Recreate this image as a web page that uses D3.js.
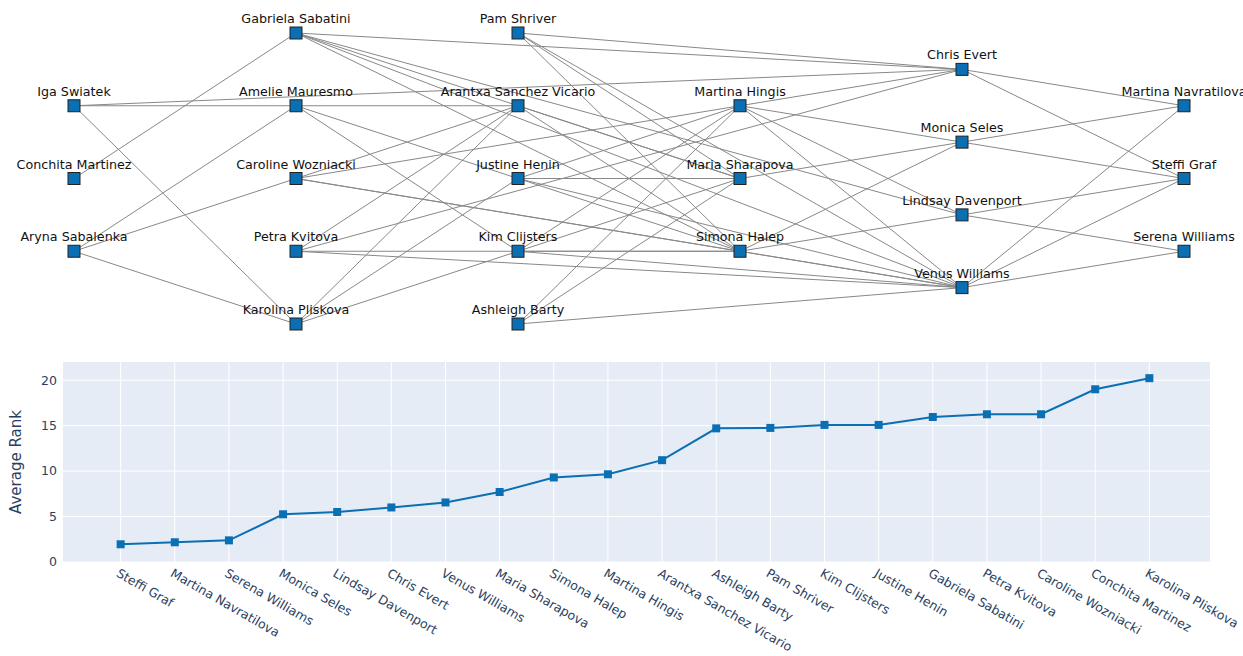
<!DOCTYPE html>
<html><head><meta charset="utf-8">
<script src="https://cdn.jsdelivr.net/npm/d3@7"></script>
<style>body{margin:0;background:#fff}svg{display:block}</style>
</head><body>
<svg id="chart" width="1243" height="656"></svg>
<script>
// ---------- network data ----------
const nodeNames = ["Iga Swiatek","Conchita Martinez","Aryna Sabalenka",
  "Gabriela Sabatini","Amelie Mauresmo","Caroline Wozniacki","Petra Kvitova","Karolina Pliskova",
  "Pam Shriver","Arantxa Sanchez Vicario","Justine Henin","Kim Clijsters","Ashleigh Barty",
  "Martina Hingis","Maria Sharapova","Simona Halep",
  "Chris Evert","Monica Seles","Lindsay Davenport","Venus Williams",
  "Martina Navratilova","Steffi Graf","Serena Williams"];
const nodeLayer = [0,0,0, 1,1,1,1,1, 2,2,2,2,2, 3,3,3, 4,4,4,4, 5,5,5];
const nodeSlot  = [1,2,3, 0,1,2,3,4, 0,1,2,3,4, 1,2,3, 0.5,1.5,2.5,3.5, 1,2,3];
const edgeSource = [
  "Iga Swiatek","Iga Swiatek","Iga Swiatek",
  "Conchita Martinez",
  "Aryna Sabalenka","Aryna Sabalenka","Aryna Sabalenka",
  "Gabriela Sabatini","Gabriela Sabatini","Gabriela Sabatini","Gabriela Sabatini","Gabriela Sabatini",
  "Amelie Mauresmo","Amelie Mauresmo","Amelie Mauresmo",
  "Caroline Wozniacki","Caroline Wozniacki","Caroline Wozniacki","Caroline Wozniacki",
  "Petra Kvitova","Petra Kvitova","Petra Kvitova","Petra Kvitova",
  "Karolina Pliskova","Karolina Pliskova","Karolina Pliskova",
  "Pam Shriver","Pam Shriver","Pam Shriver","Pam Shriver",
  "Arantxa Sanchez Vicario","Arantxa Sanchez Vicario",
  "Justine Henin","Justine Henin","Justine Henin","Justine Henin",
  "Kim Clijsters","Kim Clijsters","Kim Clijsters","Kim Clijsters",
  "Ashleigh Barty","Ashleigh Barty","Ashleigh Barty",
  "Martina Hingis","Martina Hingis","Martina Hingis","Martina Hingis",
  "Maria Sharapova",
  "Simona Halep","Simona Halep","Simona Halep",
  "Chris Evert","Chris Evert",
  "Monica Seles","Monica Seles",
  "Lindsay Davenport","Lindsay Davenport",
  "Venus Williams","Venus Williams","Venus Williams"];
const edgeTarget = [
  "Amelie Mauresmo","Chris Evert","Karolina Pliskova",
  "Gabriela Sabatini",
  "Amelie Mauresmo","Caroline Wozniacki","Karolina Pliskova",
  "Chris Evert","Maria Sharapova","Lindsay Davenport","Venus Williams","Simona Halep",
  "Arantxa Sanchez Vicario","Justine Henin","Kim Clijsters",
  "Arantxa Sanchez Vicario","Martina Hingis","Simona Halep","Venus Williams",
  "Arantxa Sanchez Vicario","Chris Evert","Simona Halep","Venus Williams",
  "Arantxa Sanchez Vicario","Justine Henin","Kim Clijsters",
  "Chris Evert","Maria Sharapova","Venus Williams","Simona Halep",
  "Maria Sharapova","Simona Halep",
  "Maria Sharapova","Martina Hingis","Simona Halep","Venus Williams",
  "Martina Hingis","Maria Sharapova","Simona Halep","Venus Williams",
  "Martina Hingis","Maria Sharapova","Venus Williams",
  "Chris Evert","Monica Seles","Lindsay Davenport","Venus Williams",
  "Monica Seles",
  "Monica Seles","Lindsay Davenport","Venus Williams",
  "Martina Navratilova","Steffi Graf",
  "Martina Navratilova","Steffi Graf",
  "Steffi Graf","Serena Williams",
  "Martina Navratilova","Steffi Graf","Serena Williams"];

// ---------- average rank data ----------
const players = ["Steffi Graf","Martina Navratilova","Serena Williams","Monica Seles","Lindsay Davenport",
  "Chris Evert","Venus Williams","Maria Sharapova","Simona Halep","Martina Hingis","Arantxa Sanchez Vicario",
  "Ashleigh Barty","Pam Shriver","Kim Clijsters","Justine Henin","Gabriela Sabatini","Petra Kvitova",
  "Caroline Wozniacki","Conchita Martinez","Karolina Pliskova"];
const avgRank = [1.95,2.17,2.38,5.25,5.5,6.0,6.55,7.7,9.3,9.65,11.2,14.7,14.75,15.08,15.08,15.95,16.25,16.25,19.0,20.22];
const yTicks = [0,5,10,15,20];

const blue = "#0a6fb3";
const font = "DejaVu Sans, Verdana, sans-serif";
const svg = d3.select("#chart");

// ---------- network ----------
const xNet = d3.scaleLinear().domain([0,5]).range([74,1184]);
const yNet = d3.scaleLinear().domain([0,4]).range([33,324]);
const idx = new Map(nodeNames.map((n,i)=>[n,i]));
const nodes = nodeNames.map((n,i)=>({name:n, x:xNet(nodeLayer[i]), y:yNet(nodeSlot[i])}));
const edges = edgeSource.map((s,i)=>({s:nodes[idx.get(s)], t:nodes[idx.get(edgeTarget[i])]}));

const net = svg.append("g");
net.selectAll("line.edge").data(edges).join("line")
  .attr("x1",d=>d.s.x).attr("y1",d=>d.s.y).attr("x2",d=>d.t.x).attr("y2",d=>d.t.y)
  .attr("stroke","#888").attr("stroke-width",1);
net.selectAll("rect.node").data(nodes).join("rect")
  .attr("x",d=>d.x-6).attr("y",d=>d.y-6).attr("width",12).attr("height",12)
  .attr("fill",blue).attr("stroke","#222").attr("stroke-width",1);
net.selectAll("text.lbl").data(nodes).join("text")
  .attr("x",d=>d.x).attr("y",d=>d.y-10)
  .attr("text-anchor","middle")
  .attr("font-family",font).attr("font-size",12.7)
  .attr("fill","#111").text(d=>d.name);

// ---------- line chart ----------
const plot = {l:63, r:1210, t:362, b:562};
const xCat = d3.scalePoint().domain(players).range([60,1210]).padding(1.12);
const yLin = d3.scaleLinear().domain([0,22]).range([plot.b, plot.t]);
const g = svg.append("g");
g.append("rect").attr("x",plot.l).attr("y",plot.t).attr("width",plot.r-plot.l).attr("height",plot.b-plot.t).attr("fill","#E5ECF6");
g.selectAll("line.vg").data(players).join("line")
  .attr("x1",d=>xCat(d)).attr("x2",d=>xCat(d)).attr("y1",plot.t).attr("y2",plot.b)
  .attr("stroke","#fff").attr("stroke-width",1);
g.selectAll("line.hg").data(yTicks).join("line")
  .attr("x1",plot.l).attr("x2",plot.r).attr("y1",d=>yLin(d)).attr("y2",d=>yLin(d))
  .attr("stroke","#fff").attr("stroke-width",1);
g.selectAll("text.yt").data(yTicks).join("text")
  .attr("x",plot.l-6).attr("y",d=>yLin(d)).attr("dy","0.35em").attr("text-anchor","end")
  .attr("font-family",font).attr("font-size",12.5).attr("fill","#2a3f5f").text(d=>d);
g.selectAll("text.xt").data(players).join("text")
  .attr("transform",d=>`translate(${xCat(d)-3},${plot.b+10}) rotate(30)`)
  .attr("text-anchor","start").attr("dy","0.35em")
  .attr("font-family",font).attr("font-size",12.5).attr("fill","#2a3f5f").text(d=>d);
g.append("text").attr("transform",`translate(21,${(plot.t+plot.b)/2}) rotate(-90)`)
  .attr("text-anchor","middle").attr("font-family",font).attr("font-size",15)
  .attr("fill","#2a3f5f").text("Average Rank");
const lineGen = d3.line().x((d,i)=>xCat(players[i])).y(d=>yLin(d));
g.append("path").datum(avgRank).attr("d",lineGen).attr("fill","none").attr("stroke",blue).attr("stroke-width",2);
g.selectAll("rect.pt").data(avgRank).join("rect")
  .attr("x",(d,i)=>xCat(players[i])-4).attr("y",d=>yLin(d)-4).attr("width",8).attr("height",8).attr("fill",blue);
</script>
</body></html>
